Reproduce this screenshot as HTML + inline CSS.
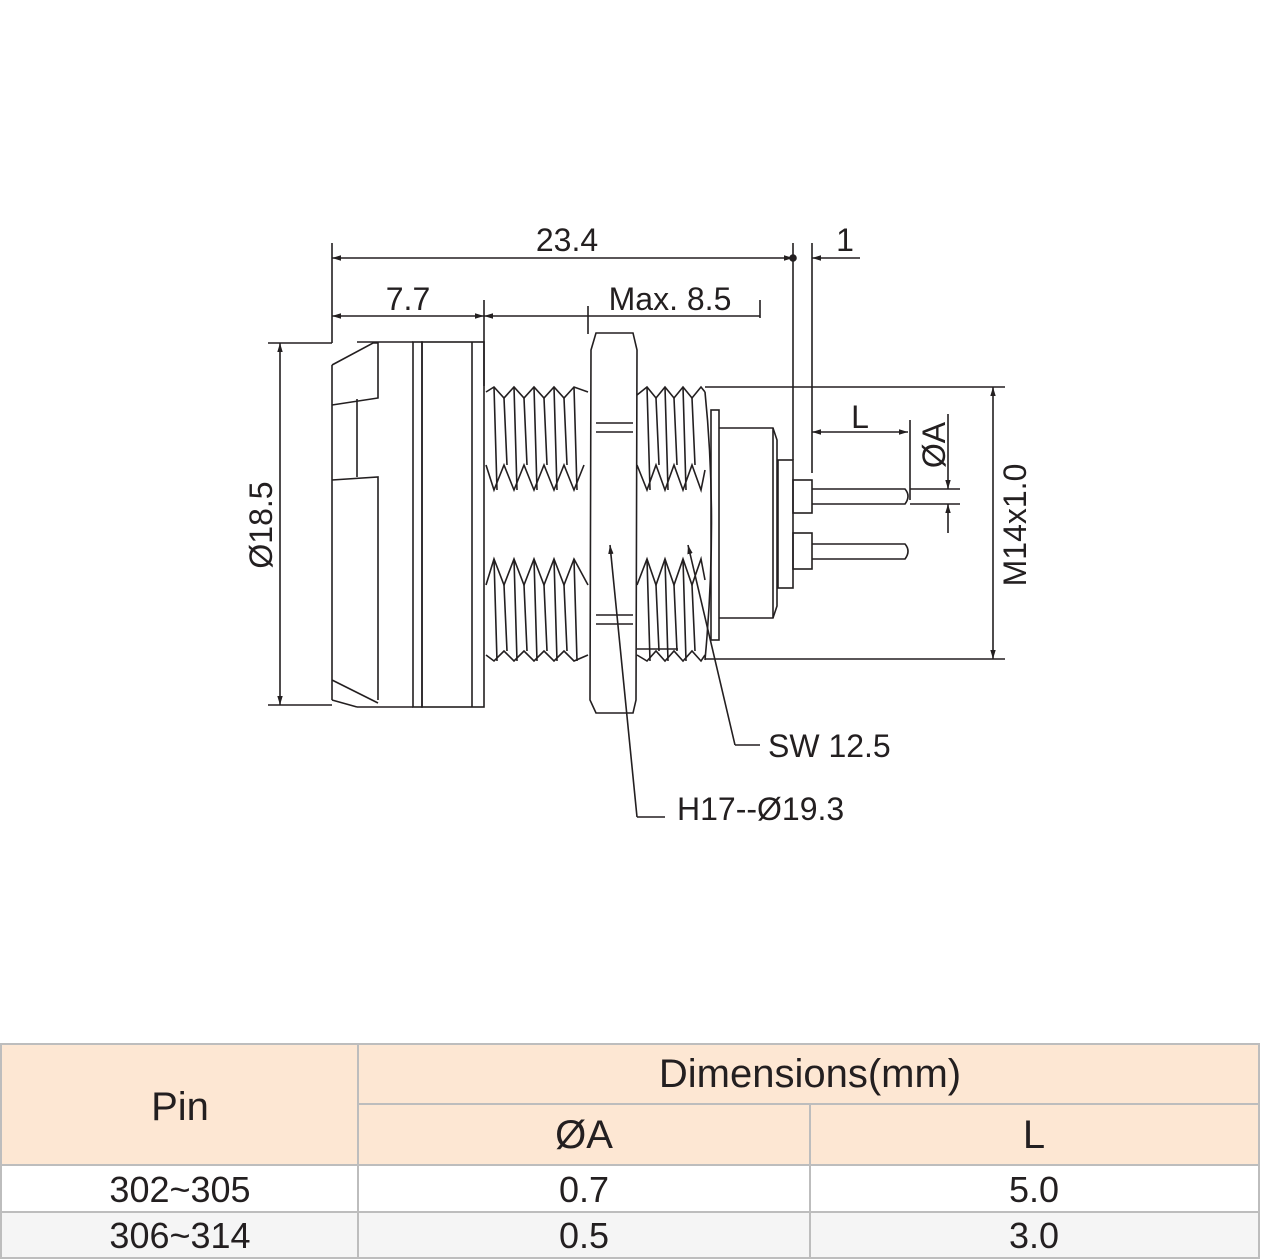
<!DOCTYPE html>
<html><head><meta charset="utf-8"><style>
html,body{margin:0;padding:0;background:#fff;}
svg{display:block;}
text{font-family:"Liberation Sans",sans-serif;fill:#231f20;}
</style></head><body>
<svg width="1261" height="1260" viewBox="0 0 1261 1260" xmlns="http://www.w3.org/2000/svg">
<defs>
<marker id="ar" viewBox="0 0 10 10" refX="10" refY="5" markerWidth="9" markerHeight="9" orient="auto-start-reverse" markerUnits="userSpaceOnUse"><path d="M0,2 L10,5 L0,8 z" fill="#231f20"/></marker>
</defs>
<g stroke="#231f20" stroke-width="1.6" fill="none">
<!-- extension lines -->
<line x1="332" y1="243" x2="332" y2="343"/>
<line x1="484" y1="300" x2="484" y2="386"/>
<line x1="588" y1="306" x2="588" y2="334"/>
<line x1="760" y1="300" x2="760" y2="318"/>
<line x1="793" y1="243" x2="793" y2="460"/>
<line x1="812" y1="243" x2="812" y2="473"/>
<!-- top dims -->
<line x1="332" y1="258" x2="793" y2="258" marker-start="url(#ar)" marker-end="url(#ar)"/>
<circle cx="793" cy="258" r="3" fill="#231f20"/>
<line x1="812" y1="258" x2="860" y2="258" marker-start="url(#ar)"/>
<line x1="332" y1="316" x2="484" y2="316" marker-start="url(#ar)" marker-end="url(#ar)"/>
<line x1="484" y1="316" x2="760" y2="316" marker-start="url(#ar)"/>
<!-- dia 18.5 -->
<line x1="268" y1="343" x2="332" y2="343"/>
<line x1="268" y1="705" x2="332" y2="705"/>
<line x1="280" y1="343" x2="280" y2="705" marker-start="url(#ar)" marker-end="url(#ar)"/>
<!-- left plug -->
<path d="M332,365 L373,343 L378,343 L378,398 L332,405"/>
<path d="M357,399 L357,477"/>
<path d="M332,480 L378,477 L378,700"/>
<path d="M332,680 L378,703"/>
<line x1="332" y1="365" x2="332" y2="700"/>
<path d="M332,700 L357,707"/>
<line x1="357" y1="342" x2="413" y2="342"/>
<line x1="357" y1="707" x2="413" y2="707"/>
<rect x="413" y="342" width="9" height="365"/>
<rect x="422" y="342" width="62" height="365"/>
<line x1="472" y1="342" x2="472" y2="707"/>
<!-- left thread -->
<path d="M486,392 L494,387 L504,398 L514,387 L524,398 L534,387 L544,398 L554,387 L564,398 L574,387 L588,392"/>
<path d="M486,465 L494,490 L504,465 L514,490 L524,465 L534,490 L544,465 L554,490 L564,465 L574,490 L584,465"/>
<path d="M486,585 L494,559 L504,585 L514,559 L524,585 L534,559 L544,585 L554,559 L564,585 L574,559 L588,585"/>
<path d="M486,655 L494,661 L504,651 L514,661 L524,651 L534,661 L544,651 L554,661 L564,651 L574,661 L588,655"/>
<path d="M494,387 L497,490 M504,398 L507,465 M514,387 L517,490 M524,398 L527,465 M534,387 L537,490 M544,398 L547,465 M554,387 L557,490 M564,398 L567,465 M574,387 L577,490"/>
<path d="M494,559 L497,661 M504,585 L507,651 M514,559 L517,661 M524,585 L527,651 M534,559 L537,661 M544,585 L547,651 M554,559 L557,661 M564,585 L567,651 M574,559 L577,661"/>
<!-- nut -->
<path d="M596,333 L633,333 L637,350 L636,700 L633,713 L596,713 L590,700 L591,350 Z"/>
<line x1="596" y1="423" x2="633" y2="423"/>
<line x1="596" y1="432" x2="633" y2="432"/>
<line x1="596" y1="615" x2="633" y2="615"/>
<line x1="596" y1="624" x2="633" y2="624"/>
<!-- right thread -->
<path d="M637,395 L647,387 L656,398 L665,387 L674,398 L683,387 L692,398 L701,387 L705,392"/>
<path d="M637,465 L647,490 L656,465 L665,490 L674,465 L683,490 L692,465 L701,490 L705,470"/>
<path d="M637,585 L647,559 L656,585 L665,559 L674,585 L683,559 L692,585 L701,559 L705,580"/>
<path d="M637,655 L647,661 L656,651 L665,661 L674,651 L683,661 L692,651 L701,661 L705,655"/>
<path d="M647,387 L650,490 M656,398 L659,465 M665,387 L668,490 M674,398 L677,465 M683,387 L686,490 M692,398 L695,465"/>
<path d="M647,559 L650,661 M656,585 L659,651 M665,559 L668,661 M674,585 L677,651 M683,559 L686,661 M692,585 L695,651"/>
<path d="M637,649 L678,649"/>
<path d="M705,392 Q718,520 705,660"/>
<!-- right body -->
<rect x="711" y="410" width="8" height="230"/>
<path d="M719,428 L773,428 L777,440 L777,606 L773,618 L719,618"/>
<line x1="773" y1="428" x2="773" y2="618"/>
<rect x="778" y="460" width="15" height="128"/>
<rect x="793" y="480" width="19" height="33"/>
<rect x="793" y="533" width="19" height="36"/>
<path d="M812,489 L905,489 Q911,496 905,504 L812,504"/>
<path d="M812,544 L905,544 Q911,551 905,559 L812,559"/>
<!-- M14 dim -->
<line x1="705" y1="387" x2="1005" y2="387"/>
<line x1="705" y1="659" x2="1005" y2="659"/>
<line x1="993" y1="387" x2="993" y2="659" marker-start="url(#ar)" marker-end="url(#ar)"/>
<!-- L dim -->
<line x1="812" y1="432" x2="908" y2="432" marker-start="url(#ar)" marker-end="url(#ar)"/>
<line x1="910" y1="420" x2="910" y2="500"/>
<!-- ØA dim -->
<line x1="910" y1="489" x2="960" y2="489"/>
<line x1="910" y1="504" x2="960" y2="504"/>
<line x1="948" y1="414" x2="948" y2="489" marker-end="url(#ar)"/>
<line x1="948" y1="533" x2="948" y2="504" marker-end="url(#ar)"/>
<!-- leaders -->
<path d="M735,745 L688,545" marker-end="url(#ar)"/>
<line x1="735" y1="745" x2="760" y2="745"/>
<path d="M637,817 L610,545" marker-end="url(#ar)"/>
<line x1="637" y1="817" x2="665" y2="817"/>
</g>
<g font-size="32">
<text x="567" y="251" text-anchor="middle">23.4</text>
<text x="845" y="251" text-anchor="middle">1</text>
<text x="408" y="310" text-anchor="middle">7.7</text>
<text x="670" y="310" text-anchor="middle">Max. 8.5</text>
<text x="860" y="428" text-anchor="middle">L</text>
<text x="768" y="757">SW 12.5</text>
<text x="677" y="820">H17--Ø19.3</text>
<text transform="translate(272,525) rotate(-90)" text-anchor="middle">Ø18.5</text>
<text transform="translate(1026,525) rotate(-90)" text-anchor="middle">M14x1.0</text>
<text transform="translate(945,445) rotate(-90)" text-anchor="middle">ØA</text>
</g>
<!-- table -->
<rect x="1" y="1044" width="1258" height="121" fill="#fde7d3"/>
<rect x="1" y="1165" width="1258" height="47" fill="#fff"/>
<rect x="1" y="1212" width="1258" height="46" fill="#f5f5f5"/>
<g stroke="#bdbdbd" stroke-width="2" fill="none">
<rect x="1" y="1044" width="1258" height="214"/>
<line x1="358" y1="1044" x2="358" y2="1258"/>
<line x1="358" y1="1104" x2="1259" y2="1104"/>
<line x1="810" y1="1104" x2="810" y2="1258"/>
<line x1="1" y1="1165" x2="1259" y2="1165"/>
<line x1="1" y1="1212" x2="1259" y2="1212"/>
</g>
<g font-size="40" text-anchor="middle" fill="#231f20">
<text x="180" y="1120">Pin</text>
<text x="810" y="1087">Dimensions(mm)</text>
<text x="584" y="1148">ØA</text>
<text x="1034" y="1148">L</text>
<text x="180" y="1202" font-size="36">302~305</text>
<text x="584" y="1202" font-size="36">0.7</text>
<text x="1034" y="1202" font-size="36">5.0</text>
<text x="180" y="1248" font-size="36">306~314</text>
<text x="584" y="1248" font-size="36">0.5</text>
<text x="1034" y="1248" font-size="36">3.0</text>
</g>
</svg>
</body></html>
